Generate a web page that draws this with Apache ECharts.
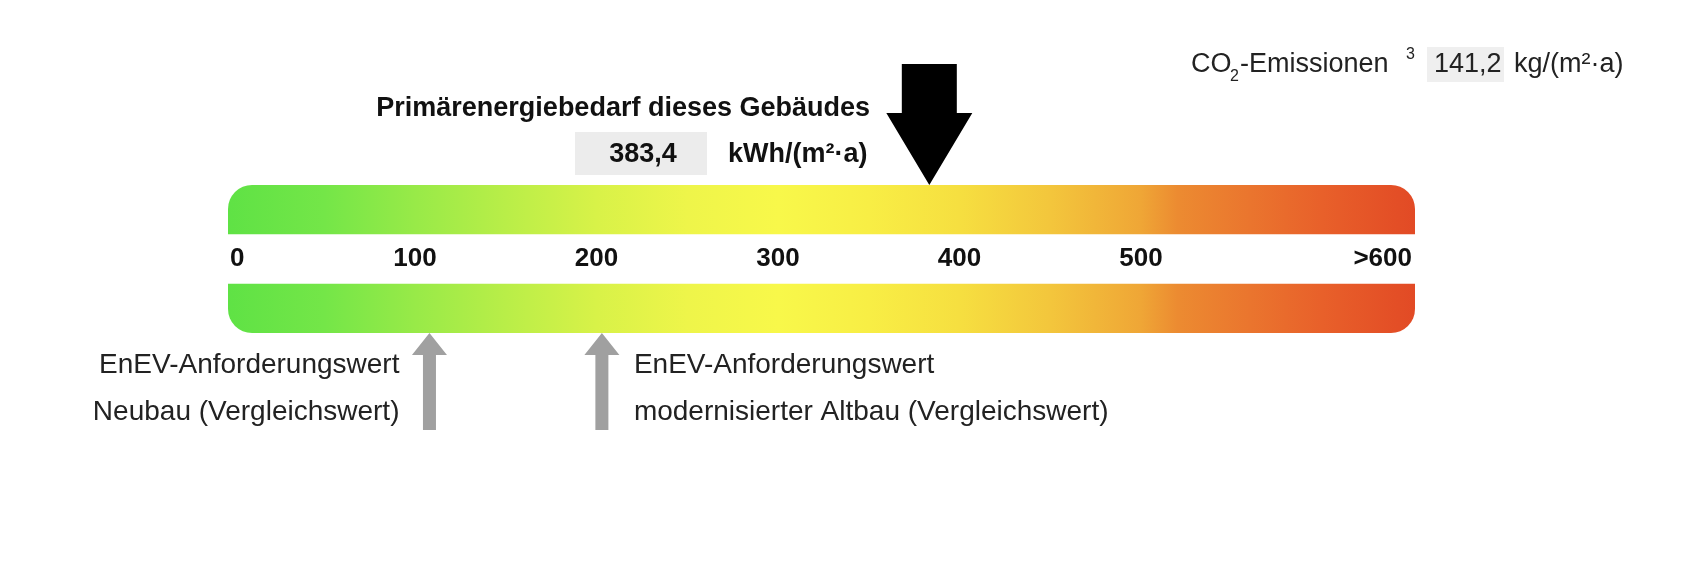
<!DOCTYPE html>
<html><head><meta charset="utf-8">
<script src="https://cdn.jsdelivr.net/npm/echarts@6/dist/echarts.min.js"></script>
<style>html,body{margin:0;padding:0;background:#fff}#chart{width:1699px;height:587px}</style>
</head><body><div id="chart"></div>
<script>
// ---- data ----
const scaleStart = -3;            // colour bar begins just left of 0
const scaleEnd = 651;             // colour bar runs past 600 (">600" zone)
const tickValues = [0, 100, 200, 300, 400, 500, 600];
const tickLabels = ['0', '100', '200', '300', '400', '500', '>600'];
const buildingValue = 383.4;
const buildingValueText = '383,4';
const buildingUnit = 'kWh/(m²·a)';
const buildingTitle = 'Primärenergiebedarf dieses Gebäudes';
const referenceValues = [108, 203];
const referenceTexts = [
  ['EnEV-Anforderungswert', 'Neubau (Vergleichswert)'],
  ['EnEV-Anforderungswert', 'modernisierter Altbau (Vergleichswert)']
];
const co2Value = '141,2';
const co2Unit = 'kg/(m²·a)';
const gradientValues = [-3, 50, 100, 150, 200, 250, 300, 350, 400, 450, 500, 520, 560, 600, 651];
const gradientColors = ['#5fe245', '#74e648', '#98ea48', '#b9ee48', '#d8f248', '#eef54a', '#f8f84a', '#f8ee45', '#f6df40', '#f3c63c', '#efa636', '#ec8b31', '#ea752e', '#e8602a', '#e24a25'];

const FONT = "'Liberation Sans', Arial, sans-serif";

const stops = gradientValues.map((v, i) => ({
  offset: (v - scaleStart) / (scaleEnd - scaleStart),
  color: gradientColors[i]
}));

const chart = echarts.init(document.getElementById('chart'), null, {renderer: 'canvas'});

const option = {
  animation: false,
  backgroundColor: '#ffffff',
  grid: {left: 228, right: 284, top: 185, bottom: 254},
  xAxis: {type: 'value', min: scaleStart, max: scaleEnd, show: false},
  yAxis: {type: 'value', min: 0, max: 3, show: false},
  series: [
    {
      type: 'custom',
      name: 'bars',
      data: [[scaleStart, scaleEnd, 2, 3, 0], [scaleStart, scaleEnd, 0, 1, 1]],
      renderItem: function (params, api) {
        const p0 = api.coord([api.value(0), api.value(3)]);
        const p1 = api.coord([api.value(1), api.value(2)]);
        const isTop = api.value(4) === 0;
        return {
          type: 'rect',
          shape: {x: p0[0], y: p0[1], width: p1[0] - p0[0], height: p1[1] - p0[1],
                  r: isTop ? [24, 24, 0, 0] : [0, 0, 24, 24]},
          style: {fill: new echarts.graphic.LinearGradient(0, 0, 1, 0, stops)}
        };
      }
    },
    {
      type: 'custom',
      name: 'ticks',
      data: tickValues.map((v, i) => [v, 1.5, i]),
      renderItem: function (params, api) {
        const i = api.value(2);
        let p = api.coord([api.value(0), api.value(1)]);
        let align = 'center';
        if (i === 0) { p = api.coord([scaleStart, api.value(1)]); p[0] += 2; align = 'left'; }
        if (i === tickValues.length - 1) { p = api.coord([scaleEnd, api.value(1)]); p[0] -= 3; align = 'right'; }
        return {
          type: 'text',
          x: p[0], y: p[1],
          style: {text: tickLabels[i], fill: '#111', font: 'bold 26px ' + FONT, align: align, verticalAlign: 'middle'}
        };
      }
    },
    {
      type: 'custom',
      name: 'building',
      data: [[buildingValue, 3]],
      renderItem: function (params, api) {
        const t = api.coord([api.value(0), api.value(1)]);
        const pts = [[-27.5, -121], [27.5, -121], [27.5, -72], [43, -72], [0, 0], [-43, -72], [-27.5, -72]]
          .map(d => [t[0] + d[0], t[1] + d[1]]);
        return {type: 'polygon', shape: {points: pts}, style: {fill: '#000'}};
      }
    },
    {
      type: 'custom',
      name: 'references',
      data: referenceValues.map((v, i) => [v, 0, i]),
      renderItem: function (params, api) {
        const i = api.value(2);
        const t = api.coord([api.value(0), api.value(1)]);
        const pts = [[0, 0], [17.5, 22], [6.5, 22], [6.5, 97], [-6.5, 97], [-6.5, 22], [-17.5, 22]]
          .map(d => [t[0] + d[0], t[1] + d[1]]);
        const left = i === 0;
        const tx = left ? t[0] - 30 : t[0] + 32;
        const children = [{type: 'polygon', shape: {points: pts}, style: {fill: '#a0a0a0'}}];
        referenceTexts[i].forEach((line, k) => {
          children.push({
            type: 'text', x: tx, y: t[1] + 32 + k * 47,
            style: {text: line, fill: '#222', font: '28px ' + FONT, align: left ? 'right' : 'left', verticalAlign: 'middle'}
          });
        });
        return {type: 'group', children: children};
      }
    }
  ],
  graphic: [
    {type: 'text', x: 870, y: 109, style: {text: buildingTitle, fill: '#111', font: 'bold 27px ' + FONT, align: 'right', verticalAlign: 'middle'}},
    {type: 'rect', shape: {x: 575, y: 132, width: 132, height: 43}, style: {fill: '#ececec'}},
    {type: 'text', x: 643, y: 155, style: {text: buildingValueText, fill: '#111', font: 'bold 27px ' + FONT, align: 'center', verticalAlign: 'middle'}},
    {type: 'text', x: 728, y: 155, style: {text: buildingUnit, fill: '#111', font: 'bold 27px ' + FONT, align: 'left', verticalAlign: 'middle'}},

    {type: 'text', x: 1191, y: 65, style: {text: 'CO', fill: '#222', font: '27px ' + FONT, align: 'left', verticalAlign: 'middle'}},
    {type: 'text', x: 1230, y: 77, style: {text: '2', fill: '#222', font: '16px ' + FONT, align: 'left', verticalAlign: 'middle'}},
    {type: 'text', x: 1240, y: 65, style: {text: '-Emissionen', fill: '#222', font: '27px ' + FONT, align: 'left', verticalAlign: 'middle'}},
    {type: 'text', x: 1406, y: 55, style: {text: '3', fill: '#222', font: '16px ' + FONT, align: 'left', verticalAlign: 'middle'}},
    {type: 'rect', shape: {x: 1427, y: 47, width: 77, height: 35}, style: {fill: '#efefef'}},
    {type: 'text', x: 1434, y: 65, style: {text: co2Value, fill: '#222', font: '27px ' + FONT, align: 'left', verticalAlign: 'middle'}},
    {type: 'text', x: 1514, y: 65, style: {text: co2Unit, fill: '#222', font: '27px ' + FONT, align: 'left', verticalAlign: 'middle'}}
  ]
};
chart.setOption(option);
</script>
</body></html>
